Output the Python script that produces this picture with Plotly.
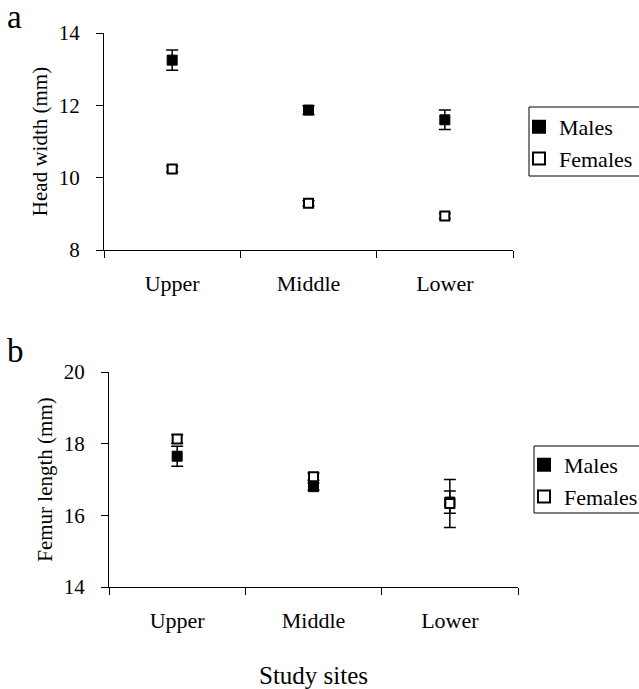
import plotly.graph_objects as go

sites = ["Upper", "Middle", "Lower"]
head_males = [13.25, 11.87, 11.6]
head_males_err = [0.28, 0.12, 0.27]
head_females = [10.24, 9.29, 8.94]
head_females_err = [0.08, 0.07, 0.07]
femur_males = [17.65, 16.8, 16.37]
femur_males_err = [0.28, 0.1, 0.31]
femur_females = [18.13, 17.08, 16.33]
femur_females_err = [0.12, 0.1, 0.67]

FONT = "Liberation Serif, Times New Roman, serif"
W, H = 639, 689

fig = go.Figure()

def add_pair(males, merr, females, ferr, xa, ya, legend):
    fig.add_trace(go.Scatter(
        x=sites, y=males, mode="markers", name="Males",
        error_y=dict(type="data", array=merr, color="black", thickness=1.5, width=6),
        marker=dict(symbol="square", size=10, color="black", line=dict(color="black", width=1)),
        xaxis=xa, yaxis=ya, legend=legend))
    fig.add_trace(go.Scatter(
        x=sites, y=females, mode="markers", name="Females",
        error_y=dict(type="data", array=ferr, color="black", thickness=1.5, width=6),
        marker=dict(symbol="square", size=9, color="white", line=dict(color="black", width=2)),
        xaxis=xa, yaxis=ya, legend=legend))

add_pair(head_males, head_males_err, head_females, head_females_err, "x", "y", "legend")
add_pair(femur_males, femur_males_err, femur_females, femur_females_err, "x2", "y2", "legend2")

axis_common = dict(showline=True, linecolor="black", linewidth=1, ticks="outside",
                   tickcolor="black", ticklen=7, showgrid=False, zeroline=False,
                   automargin=False)
xfont = dict(family=FONT, size=22, color="black")
yfont = dict(family=FONT, size=21, color="black")

def px_x(v):
    return v / W

def px_y(v):
    return (H - v) / H

fig.update_layout(
    width=W, height=H, margin=dict(l=0, r=0, t=0, b=0, autoexpand=False),
    plot_bgcolor="white", paper_bgcolor="white",
    font=dict(family=FONT, color="black"),
    xaxis=dict(domain=[px_x(104), px_x(513)], anchor="y", type="category", range=[-0.5, 2.5],
               tickson="boundaries", tickfont=xfont, ticklabelstandoff=14, **axis_common),
    yaxis=dict(domain=[px_y(250), px_y(33)], anchor="x", range=[8, 14], dtick=2,
               tickfont=yfont, ticklabelstandoff=12,
               title=dict(text="Head width (mm)", font=dict(family=FONT, size=21), standoff=5),
               **axis_common),
    xaxis2=dict(domain=[px_x(109), px_x(518)], anchor="y2", type="category", range=[-0.5, 2.5],
                tickson="boundaries", tickfont=xfont, ticklabelstandoff=14, **axis_common),
    yaxis2=dict(domain=[px_y(587), px_y(372)], anchor="x2", range=[14, 20], dtick=2,
                tickfont=yfont, ticklabelstandoff=12,
                title=dict(text="Femur length (mm)", font=dict(family=FONT, size=21), standoff=5),
                **axis_common),
    legend=dict(x=px_x(519), y=px_y(106), xanchor="left", yanchor="top",
                borderwidth=0, bgcolor="rgba(0,0,0,0)",
                font=dict(family=FONT, size=22), itemsizing="constant",
                tracegroupgap=0, itemwidth=30),
    legend2=dict(x=px_x(524), y=px_y(444), xanchor="left", yanchor="top",
                 borderwidth=0, bgcolor="rgba(0,0,0,0)",
                 font=dict(family=FONT, size=22), itemsizing="constant",
                 tracegroupgap=0, itemwidth=30),
    shapes=[
        dict(type="rect", xref="paper", yref="paper", x0=px_x(529), x1=px_x(660),
             y0=px_y(176), y1=px_y(107), line=dict(color="black", width=1), layer="below"),
        dict(type="rect", xref="paper", yref="paper", x0=px_x(534), x1=px_x(660),
             y0=px_y(513), y1=px_y(446), line=dict(color="black", width=1), layer="below"),
    ],
    annotations=[
        dict(text="a", x=px_x(5), y=px_y(-3), xref="paper", yref="paper", xanchor="left", yanchor="top",
             showarrow=False, font=dict(family=FONT, size=33)),
        dict(text="b", x=px_x(5), y=px_y(331), xref="paper", yref="paper", xanchor="left", yanchor="top",
             showarrow=False, font=dict(family=FONT, size=33)),
        dict(text="Study sites", x=px_x(313), y=px_y(675), xref="paper", yref="paper",
             xanchor="center", yanchor="middle", showarrow=False, font=dict(family=FONT, size=25)),
    ],
)

fig.write_html("out.html", config={"displayModeBar": False},
               post_script="document.body.style.margin='0';document.body.style.overflow='hidden';")
